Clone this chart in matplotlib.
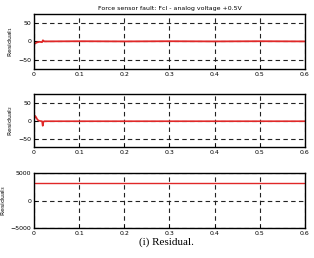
import numpy as np
import matplotlib
matplotlib.use("Agg")
import matplotlib.pyplot as plt

# Residual 1: near zero, small transient at start
t1 = [0.0, 0.002, 0.006, 0.012, 0.018, 0.020, 0.021, 0.024, 0.1, 0.2, 0.3, 0.4, 0.5, 0.6]
r1 = [-4, -6, -3, -1, -2, 3, 1, 0, 0.5, 0, 0.5, 0, 0.5, 0]

# Residual 2: spike up near start, dip at 0.02
t2 = [0.0, 0.003, 0.005, 0.008, 0.012, 0.018, 0.0195, 0.021, 0.023, 0.1, 0.2, 0.3, 0.4, 0.5, 0.6]
r2 = [2, 14, 10, 3, 0, -1, -14, -3, -1, -1, -1, -1, -1, -1, -1]

# Residual 3: constant offset
t3 = [0.0, 0.6]
r3 = [3200, 3200]

xticks = [0, 0.1, 0.2, 0.3, 0.4, 0.5, 0.6]
xticklabels = ["0", "0.1", "0.2", "0.3", "0.4", "0.5", "0.6"]

fig = plt.figure(figsize=(3.14, 2.58), dpi=100)
fig.patch.set_facecolor("white")


def style(ax, ylim, yticks, ylabel):
    ax.set_xlim(0, 0.6)
    ax.set_ylim(*ylim)
    ax.set_xticks(xticks)
    ax.set_xticklabels(xticklabels)
    ax.set_yticks(yticks)
    ax.tick_params(direction="in", length=2, labelsize=4.5, pad=2, width=0.6)
    ax.grid(True, color="#222222", linestyle=(0, (4, 3)), linewidth=0.8)
    for s in ax.spines.values():
        s.set_linewidth(1.0)
    ax.set_ylabel(ylabel, fontsize=4.5, labelpad=2)


ax1 = fig.add_axes([0.108, 0.733, 0.863, 0.213])
ax1.plot(t1, r1, color="#e02828", linewidth=1.3)
style(ax1, (-75, 75), [-50, 0, 50], "Residual$_1$")
ax1.set_title("Force sensor fault: Fcl - analog voltage +0.5V", fontsize=4.5, pad=3)

ax2 = fig.add_axes([0.108, 0.429, 0.863, 0.205])
ax2.plot(t2, r2, color="#e02828", linewidth=1.2)
style(ax2, (-75, 75), [-50, 0, 50], "Residual$_2$")

ax3 = fig.add_axes([0.108, 0.115, 0.863, 0.215])
ax3.plot(t3, r3, color="#e02828", linewidth=1.0)
style(ax3, (-5000, 5000), [-5000, 0, 5000], "Residual$_3$")

fig.text(0.53, 0.062, "(i) Residual.", ha="center", va="center",
         fontsize=8, family="Liberation Serif")

fig.savefig("out.png", dpi=100)
